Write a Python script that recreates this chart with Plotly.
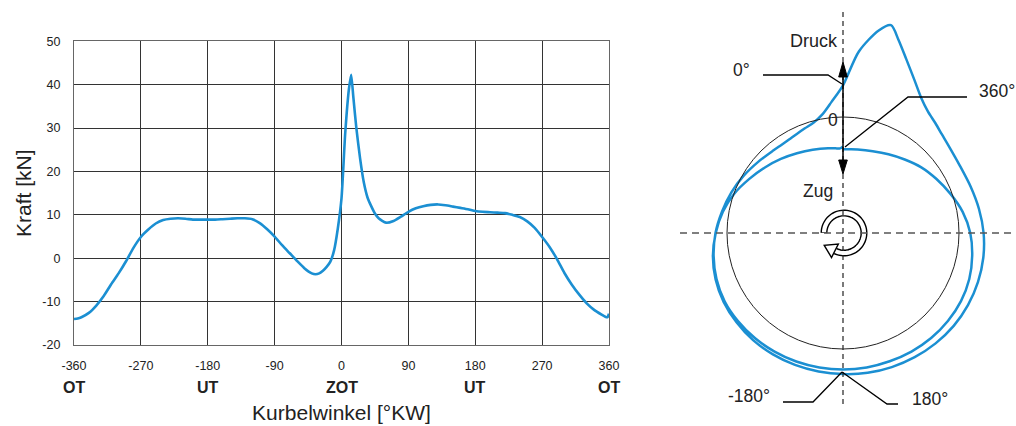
import math
import plotly.graph_objects as go

# ---------------- data ----------------
ANGLE = [-360, -355, -350, -340, -330, -320, -310, -300, -290, -280, -270, -260, -250,
         -240, -230, -220, -210, -200, -190, -180, -170, -160, -150, -140, -130, -120,
         -110, -100, -90, -80, -70, -60, -50, -40, -35, -30, -25, -20, -15, -10, -5,
         0, 5, 10, 13, 16, 20, 25, 30, 35, 40, 45, 50, 60, 70, 80, 90, 100, 110, 120,
         130, 140, 150, 160, 170, 180, 190, 200, 210, 220, 230, 240, 250, 260, 270,
         280, 290, 300, 310, 320, 330, 340, 350, 355, 358, 360]
FORCE = [-14.0, -13.9, -13.6, -12.6, -10.9, -8.7, -6.0, -3.5, -0.7, 2.4, 4.9, 6.6, 8.0,
         8.8, 9.1, 9.2, 9.1, 8.9, 8.9, 8.9, 8.9, 9.0, 9.1, 9.2, 9.2, 9.0,
         8.1, 6.7, 5.0, 3.0, 1.2, -0.6, -2.3, -3.5, -3.7, -3.5, -2.9, -2.0, -0.8, 1.8, 6.8,
         13.8, 28.8, 39.0, 42.3, 37.0, 30.0, 23.0, 17.5, 14.0, 12.0, 10.3, 9.2, 8.2, 8.6, 9.6, 10.7, 11.5, 12.0, 12.3,
         12.4, 12.2, 11.9, 11.6, 11.3, 10.9, 10.7, 10.6, 10.5, 10.4, 10.0, 9.5, 8.5, 7.0, 4.9,
         2.6, -0.2, -3.4, -6.1, -8.4, -10.4, -11.9, -13.0, -13.5, -13.6, -12.8]

X_TICKS = [-360, -270, -180, -90, 0, 90, 180, 270, 360]
X_TICK_TEXT = ["-360", "-270", "-180", "-90", "0", "90", "180", "270", "360"]
Y_TICKS = [-20, -10, 0, 10, 20, 30, 40, 50]
Y_TICK_TEXT = ["-20", "-10", "0", "10", "20", "30", "40", "50"]
DC_ANGLE = [-360, -180, 0, 180, 360]
DC_LABEL = ["OT", "UT", "ZOT", "UT", "OT"]

# ---------------- helpers (pixel -> paper) ----------------
W, H = 1016, 426


def px(x):
    return x / W


def py(y):
    return 1 - y / H


def path(points, close=False):
    s = "M " + " L ".join(f"{px(x):.5f},{py(y):.5f}" for x, y in points)
    return s + (" Z" if close else "")


BLUE = "#1b8fd2"
FONT = "Arial, 'Liberation Sans', sans-serif"
TXT = "#222222"
GRID = "#333333"

fig = go.Figure()

# Left: force vs crank angle
fig.add_trace(go.Scatter(x=ANGLE, y=FORCE, mode="lines",
                         line=dict(color=BLUE, width=2.6, shape="spline", smoothing=0.6),
                         showlegend=False, xaxis="x", yaxis="y"))

# Right: polar load diagram of the same force (angle = crank angle, clockwise from top)
CX, CY = 843, 233          # centre of the diagram (px)
R0_PX, K = 116, 2.3        # radius of the zero-force circle (px), px per kN
FC = -R0_PX / K            # force value that sits at the centre
pol_x = [(f - FC) * math.sin(math.radians(a)) for a, f in zip(ANGLE, FORCE)]
pol_y = [(f - FC) * math.cos(math.radians(a)) for a, f in zip(ANGLE, FORCE)]
fig.add_trace(go.Scatter(x=pol_x, y=pol_y, mode="lines",
                         line=dict(color=BLUE, width=2.5, shape="spline", smoothing=0.8),
                         cliponaxis=False, showlegend=False, xaxis="x2", yaxis="y2"))

# ---------------- shapes ----------------
shapes = []

# zero-force reference circle
shapes.append(dict(type="circle", xref="x2", yref="y2", x0=FC, x1=-FC, y0=FC, y1=-FC,
                   line=dict(color="#222222", width=1)))

# rotation symbol (double-line arc + open arrowhead)
RS = 20
arc = []
for i in range(0, 61):
    a = math.radians(180 - i * (180 + 116) / 60)
    arc.append((CX + 1 + RS * math.cos(a), CY - RS * math.sin(a)))
shapes.append(dict(type="path", xref="paper", yref="paper", path=path(arc),
                   line=dict(color="black", width=7)))
arc2 = []
for i in range(0, 61):
    a = math.radians(178 - i * (178 + 118) / 60)
    arc2.append((CX + 1 + RS * math.cos(a), CY - RS * math.sin(a)))
shapes.append(dict(type="path", xref="paper", yref="paper", path=path(arc2),
                   line=dict(color="white", width=4.2)))
phi = math.radians(243)
bx, by = CX + 1 + RS * math.cos(phi), CY - RS * math.sin(phi)
tdx, tdy = math.sin(phi), math.cos(phi)      # clockwise tangent (screen)
nx_, ny_ = math.cos(phi), -math.sin(phi)     # radial direction (screen)
tip = (bx + 12 * tdx, by + 12 * tdy)
c1 = (bx + 7.5 * nx_, by + 7.5 * ny_)
c2 = (bx - 7.5 * nx_, by - 7.5 * ny_)
shapes.append(dict(type="path", xref="paper", yref="paper",
                   path=path([tip, c1, c2], close=True),
                   fillcolor="white", line=dict(color="black", width=1.4)))

# dashed cross hairs
shapes.append(dict(type="line", xref="paper", yref="paper",
                   x0=px(680), x1=px(1016), y0=py(CY), y1=py(CY),
                   line=dict(color="#555555", width=1.4, dash="7px,5px")))
shapes.append(dict(type="line", xref="paper", yref="paper",
                   x0=px(CX), x1=px(CX), y0=py(12), y1=py(408),
                   line=dict(color="#222222", width=1.2, dash="5px,4px")))

# Druck / Zug double arrow
shapes.append(dict(type="line", xref="paper", yref="paper",
                   x0=px(CX), x1=px(CX), y0=py(75), y1=py(162),
                   line=dict(color="black", width=1.5)))
shapes.append(dict(type="path", xref="paper", yref="paper",
                   path=path([(CX - 4.3, 77), (CX + 4.3, 77), (CX, 62)], close=True),
                   fillcolor="black", line=dict(color="black", width=1)))
shapes.append(dict(type="path", xref="paper", yref="paper",
                   path=path([(CX - 4.3, 160), (CX + 4.3, 160), (CX, 174)], close=True),
                   fillcolor="black", line=dict(color="black", width=1)))

# leader lines
for pts in ([(763, 75), (828, 75), (842, 84)],
            [(967, 97), (908, 97), (845, 147)],
            [(783, 402), (813, 402), (842, 372)],
            [(842, 372), (887, 404), (898, 404)]):
    shapes.append(dict(type="path", xref="paper", yref="paper", path=path(pts),
                       line=dict(color="black", width=1.3)))

# ---------------- annotations ----------------
ann = []
for a, lab in zip(DC_ANGLE, DC_LABEL):
    ann.append(dict(x=a, xref="x", y=py(387), yref="paper", text=f"<b>{lab}</b>",
                    xanchor="center", yanchor="middle",
                    showarrow=False, font=dict(size=16, color=TXT, family=FONT)))

for text, x, y, size in (("Druck", 814, 41, 18), ("Zug", 818, 191, 17.5),
                         ("0°", 741, 70, 17.5), ("360°", 997, 91, 17.5),
                         ("-180°", 749, 396, 17.5), ("180°", 930, 399, 17.5),
                         ("0", 833, 120, 17.5)):
    ann.append(dict(x=px(x), y=py(y), xref="paper", yref="paper", text=text,
                    xanchor="center", yanchor="middle",
                    showarrow=False, font=dict(size=size, color=TXT, family=FONT)))

fig.update_layout(
    template="none",
    width=W, height=H,
    margin=dict(l=0, r=0, t=0, b=0, pad=0),
    paper_bgcolor="white", plot_bgcolor="rgba(0,0,0,0)",
    font=dict(family=FONT, color=TXT),
    showlegend=False,
    xaxis=dict(domain=[px(74), px(609)], range=[-360, 360],
               tickvals=X_TICKS, ticktext=X_TICK_TEXT,
               showgrid=True, gridcolor=GRID, gridwidth=1.3, zeroline=False,
               showline=True, linecolor="#666666", linewidth=1.2, mirror=True,
               ticks="", ticklabelstandoff=9, automargin=False,
               tickfont=dict(size=12.5, color=TXT), anchor="y",
               title=dict(text="Kurbelwinkel [°KW]", font=dict(size=21, color=TXT),
                          standoff=33)),
    yaxis=dict(domain=[py(345), py(41.3)], range=[-20, 50],
               tickvals=Y_TICKS, ticktext=Y_TICK_TEXT,
               showgrid=True, gridcolor=GRID, gridwidth=1.3, zeroline=False,
               showline=True, linecolor="#666666", linewidth=1.2, mirror=True,
               ticks="", ticklabelstandoff=10, automargin=False,
               tickfont=dict(size=12.5, color=TXT), anchor="x",
               title=dict(text="Kraft [kN]", font=dict(size=21, color=TXT),
                          standoff=4)),
    xaxis2=dict(domain=[px(680), 1.0], range=[(680 - CX) / K, (W - CX) / K],
                visible=False, anchor="y2", automargin=False),
    yaxis2=dict(domain=[0.0, 1.0], range=[(CY - H) / K, CY / K],
                visible=False, anchor="x2", automargin=False),
    shapes=shapes,
    annotations=ann,
)

fig.write_html("out.html")
